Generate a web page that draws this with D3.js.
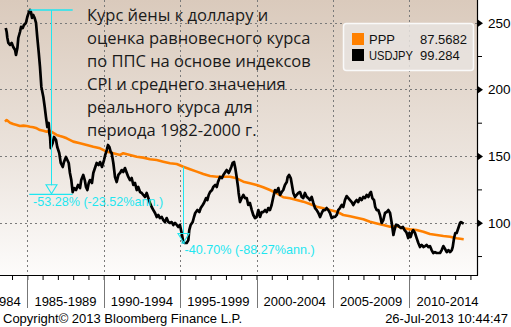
<!DOCTYPE html>
<html><head><meta charset="utf-8">
<script src="https://cdn.jsdelivr.net/npm/d3@7/dist/d3.min.js"></script>
<style>html,body{margin:0;padding:0;background:#fff;}svg{display:block;}</style>
</head><body>
<svg id="c" width="511" height="327"></svg>
<script>
// ---- data ----
const usdYears = [1983.59,1983.65,1983.69,1983.76,1983.87,1983.98,1984.08,1984.20,1984.26,1984.35,1984.41,1984.52,1984.59,1984.70,1984.78,1984.91,1985.00,1985.09,1985.18,1985.24,1985.31,1985.39,1985.48,1985.57,1985.65,1985.75,1985.83,1985.92,1986.05,1986.14,1986.22,1986.31,1986.40,1986.44,1986.49,1986.53,1986.66,1986.75,1986.88,1986.96,1987.09,1987.19,1987.32,1987.40,1987.53,1987.62,1987.71,1987.79,1987.88,1987.97,1988.06,1988.19,1988.32,1988.45,1988.53,1988.66,1988.76,1988.84,1988.93,1989.02,1989.10,1989.23,1989.32,1989.45,1989.54,1989.67,1989.76,1989.89,1990.02,1990.10,1990.20,1990.28,1990.37,1990.46,1990.52,1990.63,1990.74,1990.85,1990.96,1991.07,1991.18,1991.28,1991.39,1991.51,1991.61,1991.72,1991.83,1991.94,1992.05,1992.16,1992.26,1992.38,1992.49,1992.59,1992.70,1992.81,1992.92,1993.03,1993.14,1993.25,1993.36,1993.47,1993.57,1993.68,1993.80,1993.90,1994.01,1994.12,1994.23,1994.34,1994.45,1994.56,1994.67,1994.78,1994.88,1994.99,1995.10,1995.21,1995.32,1995.43,1995.54,1995.60,1995.69,1995.82,1995.91,1995.99,1996.13,1996.26,1996.35,1996.48,1996.56,1996.70,1996.78,1996.87,1996.96,1997.09,1997.17,1997.30,1997.40,1997.48,1997.61,1997.74,1997.83,1997.96,1998.05,1998.18,1998.27,1998.35,1998.44,1998.53,1998.61,1998.70,1998.79,1998.83,1998.92,1999.03,1999.14,1999.25,1999.36,1999.46,1999.57,1999.69,1999.79,1999.90,2000.01,2000.12,2000.23,2000.34,2000.44,2000.56,2000.67,2000.77,2000.88,2000.99,2001.10,2001.21,2001.32,2001.43,2001.54,2001.65,2001.75,2001.86,2001.98,2002.04,2002.13,2002.24,2002.32,2002.41,2002.52,2002.63,2002.74,2002.85,2002.96,2003.06,2003.17,2003.29,2003.39,2003.50,2003.61,2003.72,2003.83,2003.94,2004.05,2004.16,2004.27,2004.37,2004.48,2004.59,2004.70,2004.81,2004.92,2005.03,2005.14,2005.25,2005.35,2005.46,2005.58,2005.68,2005.79,2005.90,2006.01,2006.12,2006.23,2006.34,2006.44,2006.55,2006.66,2006.77,2006.88,2006.99,2007.10,2007.21,2007.32,2007.43,2007.49,2007.58,2007.69,2007.77,2007.87,2007.97,2008.08,2008.19,2008.30,2008.41,2008.52,2008.63,2008.74,2008.85,2008.96,2009.03,2009.12,2009.23,2009.36,2009.45,2009.58,2009.69,2009.80,2009.87,2009.93,2010.00,2010.09,2010.18,2010.26,2010.37,2010.48,2010.59,2010.70,2010.81,2010.92,2011.03,2011.14,2011.24,2011.35,2011.46,2011.57,2011.68,2011.79,2011.90,2012.01,2012.12,2012.23,2012.34,2012.45,2012.56,2012.67,2012.78,2012.84,2012.93,2013.01,2013.10,2013.21,2013.32,2013.38,2013.47,2013.56];
const usdValues = [246.0,243.0,238.9,234.8,233.3,234.8,231.8,229.5,225.8,231.0,238.5,243.0,246.8,246.0,248.3,249.8,254.3,257.3,259.5,258.0,253.5,255.8,253.5,249.8,239.3,227.3,216.8,201.8,194.3,186.8,179.3,171.8,174.8,167.3,164.3,156.0,159.8,164.3,162.0,156.8,152.3,144.8,141.8,145.5,149.3,147.0,144.8,137.3,132.0,123.0,126.0,124.5,128.3,126.0,132.0,135.8,132.0,126.8,124.5,129.8,132.0,129.8,137.3,141.8,144.8,143.3,145.5,141.8,147.0,150.8,154.5,158.3,156.8,153.0,152.3,144.8,134.3,130.5,135.8,137.3,139.5,138.0,141.0,137.3,134.3,132.0,133.5,128.3,129.8,124.5,126.8,123.0,122.3,120.8,119.3,122.3,118.5,114.8,111.8,109.5,107.3,104.3,105.8,103.5,104.3,102.0,100.5,103.5,100.5,99.8,100.5,98.3,99.8,98.3,96.8,98.3,92.3,85.5,84.8,84.8,87.0,94.5,98.3,100.5,104.3,107.3,109.5,108.0,111.0,113.3,114.8,118.5,117.0,120.8,123.0,124.5,126.8,128.3,126.8,130.5,134.3,133.5,135.8,138.0,139.5,137.3,139.5,141.8,144.8,145.5,141.0,134.3,126.8,122.3,115.5,118.5,120.8,118.5,118.5,113.3,114.8,109.5,105.8,103.5,104.3,109.5,104.3,108.0,108.0,109.5,108.0,111.0,109.5,113.3,119.3,124.5,123.0,126.0,120.8,123.0,124.5,128.3,130.5,134.3,135.8,133.5,128.3,122.3,119.3,120.8,122.3,123.0,119.3,118.5,122.3,119.3,118.5,117.0,119.3,114.8,111.0,109.5,107.3,104.3,107.3,109.5,109.5,111.0,109.5,107.3,103.5,104.3,104.3,105.8,109.5,111.0,113.3,111.8,117.0,120.0,118.5,117.0,115.5,113.3,115.5,117.0,115.5,118.5,117.0,119.3,118.5,120.8,119.3,122.3,123.0,118.5,117.0,111.8,109.5,109.5,105.8,99.8,102.0,107.3,108.0,109.5,107.3,99.8,90.8,94.5,98.3,98.3,96.8,96.0,96.8,94.5,93.0,90.8,88.5,92.3,89.3,93.0,94.5,92.3,88.5,84.8,81.8,83.3,81.8,82.5,83.3,81.8,82.5,79.5,77.3,78.0,77.3,77.3,77.3,79.5,82.5,80.3,78.0,79.5,78.0,79.5,81.8,88.5,92.3,92.3,96.0,99.8,100.5,99.8,99.3];

const pppYears = [1983.54,1983.65,1983.87,1984.08,1984.31,1984.52,1984.74,1984.96,1985.18,1985.39,1985.62,1985.83,1986.05,1986.27,1986.49,1986.70,1986.92,1987.14,1987.36,1987.58,1988.01,1988.45,1988.89,1989.32,1989.76,1990.20,1990.63,1991.07,1991.28,1991.72,1992.16,1992.59,1993.03,1993.47,1993.90,1994.34,1994.78,1995.21,1995.65,1996.09,1996.52,1996.96,1997.40,1997.83,1998.27,1998.70,1999.14,1999.57,2000.01,2000.44,2000.88,2001.32,2001.75,2002.19,2002.63,2003.06,2003.50,2003.94,2004.37,2004.81,2005.25,2005.68,2006.12,2006.55,2006.99,2007.43,2007.87,2008.30,2008.74,2009.17,2009.61,2010.05,2010.48,2010.92,2011.35,2011.79,2012.23,2012.67,2013.10,2013.56];
const pppValues = [175.8,177.0,175.0,174.0,173.3,172.5,172.8,172.5,172.0,171.6,170.8,169.5,169.0,168.3,168.8,167.3,165.8,165.0,164.3,163.3,160.8,159.6,158.3,157.0,155.8,153.3,152.1,150.8,152.1,150.8,149.5,148.8,147.6,147.0,145.8,144.6,144.0,142.0,140.1,138.3,136.5,135.0,134.5,134.5,134.5,133.3,130.8,129.6,128.3,126.6,124.5,122.1,119.1,118.3,117.0,115.8,114.0,112.0,110.8,109.5,108.3,105.8,104.8,103.7,102.6,100.8,99.5,98.3,97.0,97.5,95.8,95.0,94.5,93.3,91.5,90.8,90.0,89.5,88.3,87.6];

const seriesNames = ["PPP", "USDJPY"];
const seriesLast = ["87.5682", "99.284"];
const yMajorTicks = [100, 150, 200, 250];
const yMinorTicks = [75, 125, 175, 225];
const periodStarts = [1980, 1985, 1990, 1995, 2000, 2005, 2010];
const periodLabels = ["1984", "1985-1989", "1990-1994", "1995-1999", "2000-2004", "2005-2009", "2010-2014"];
const yearTicks = d3.range(1984, 2015);
const titleLines = ["Курс йены к доллару и", "оценка равновесного курса", "по ППС на основе индексов", "CPI и среднего значения", "реального курса для", "периода 1982-2000 г."];
// drawdown annotations
const annFrom = [1985.13, 1995.08];
const annTo = [1987.97, 1995.33];
const annHigh = [259.5, 142.0];
const annLow = [121.3, 84.8];
const annLabels = ["-53.28% (-23.52%ann.)", "-40.70% (-88.27%ann.)"];
const copyright = "Copyright© 2013 Bloomberg Finance L.P.";
const stamp = "26-Jul-2013 10:44:47";

// ---- layout ----
const W = 511, H = 327;
const plotR = 477, plotB = 275;
const svg = d3.select("#c");
const x = d3.scaleLinear().domain([1983.213, 2014.43]).range([0, plotR]);
const y = d3.scaleLinear().domain([60.8, 267.0]).range([plotB, 0]);
const AX = "'Liberation Sans', Arial, sans-serif";
const CY = "#1fe6f0";

const defs = svg.append("defs");
const g = defs.append("linearGradient").attr("id","bg").attr("x1",0).attr("y1",0).attr("x2",0).attr("y2",1);
g.append("stop").attr("offset","0%").attr("stop-color","#dacabc");
g.append("stop").attr("offset","55%").attr("stop-color","#ebe3dc");
g.append("stop").attr("offset","100%").attr("stop-color","#fdfcfb");
defs.append("clipPath").attr("id","clip").append("rect").attr("x",0).attr("y",0).attr("width",plotR).attr("height",plotB);

svg.append("rect").attr("width",W).attr("height",H).attr("fill","#fff");
svg.append("rect").attr("x",0).attr("y",0).attr("width",plotR).attr("height",plotB).attr("fill","url(#bg)");

// gridlines
const grid = svg.append("g").attr("stroke","#7a7a7a").attr("stroke-width",1).attr("stroke-dasharray","2,3");
grid.selectAll("line.h").data(yMajorTicks).join("line").attr("class","h")
  .attr("x1",0).attr("x2",plotR).attr("y1",d=>Math.round(y(d))+0.5).attr("y2",d=>Math.round(y(d))+0.5);
grid.selectAll("line.v").data(periodStarts.slice(1)).join("line").attr("class","v")
  .attr("x1",d=>Math.round(x(d))+0.5).attr("x2",d=>Math.round(x(d))+0.5).attr("y1",0).attr("y2",plotB);

// title text
const tt = svg.append("g").attr("font-family","'Open Sans', sans-serif").attr("font-size",16.5).attr("fill","#1a1a1a");
tt.selectAll("text").data(titleLines).join("text").attr("x",87).attr("y",(d,i)=>20.7+i*23.05).text(d=>d);

// legend
const lg = svg.append("g");
lg.append("rect").attr("x",343.5).attr("y",23.5).attr("width",130).attr("height",47).attr("rx",3)
  .attr("fill","#e7e3df").attr("fill-opacity",0.85).attr("stroke","#fafafa").attr("stroke-width",1.5);
const colors = ["#ff8000", "#000000"];
const nameW = [26, 44];
seriesNames.forEach((n,i)=>{
  const yy = 33 + i*16;
  lg.append("rect").attr("x",352).attr("y",yy).attr("width",12).attr("height",12).attr("fill",colors[i]);
  lg.append("text").attr("x",369).attr("y",yy+11).attr("font-family",AX).attr("font-size",13).attr("fill","#111")
    .attr("textLength",nameW[i]).attr("lengthAdjust","spacingAndGlyphs").text(n);
  lg.append("text").attr("x",420).attr("y",yy+11).attr("font-family",AX).attr("font-size",13).attr("fill","#111").text(seriesLast[i]);
});

// lines
const line = d3.line().x(d=>x(d[0])).y(d=>y(d[1]));
const lines = svg.append("g").attr("clip-path","url(#clip)").attr("fill","none").attr("stroke-linejoin","round");
lines.append("path").datum(pppYears.map((d,i)=>[d,pppValues[i]])).attr("d",line).attr("stroke","#ff8000").attr("stroke-width",2.6);
lines.append("path").datum(usdYears.map((d,i)=>[d,usdValues[i]])).attr("d",line).attr("stroke","#000").attr("stroke-width",2.7);

// annotations
const an = svg.append("g");
annFrom.forEach((f,i)=>{
  const x0 = x(f), x1 = x(annTo[i]), xm = Math.round((x0+x1)/2)+0.5;
  const yh = y(annHigh[i]), yl = y(annLow[i]);
  if (i===0) an.append("line").attr("x1",x0).attr("x2",x1).attr("y1",yh).attr("y2",yh).attr("stroke",CY).attr("stroke-width",1.3);
  an.append("line").attr("x1",x0).attr("x2",x1).attr("y1",yl).attr("y2",yl).attr("stroke",CY).attr("stroke-width",1.3);
  an.append("line").attr("x1",xm).attr("x2",xm).attr("y1",yh).attr("y2",yl-9).attr("stroke",CY).attr("stroke-width",1);
  an.append("path").attr("d",`M${xm-5.5},${yl-9.5} L${xm+5.5},${yl-9.5} L${xm},${yl-0.5} Z`).attr("fill","none").attr("stroke",CY).attr("stroke-width",1.1);
  an.append("text").attr("x", i===0 ? 33 : xm+1).attr("y", yl+11.5).attr("font-family",AX).attr("font-size",12.6).attr("fill",CY).text(annLabels[i]);
});

// axes frame
svg.append("line").attr("x1",plotR+0.5).attr("x2",plotR+0.5).attr("y1",0).attr("y2",plotB+0.5).attr("stroke","#000").attr("stroke-width",1.2);
svg.append("line").attr("x1",0).attr("x2",plotR+1).attr("y1",plotB+0.5).attr("y2",plotB+0.5).attr("stroke","#000").attr("stroke-width",1.2);

// y axis
const yAx = svg.append("g").attr("transform",`translate(${plotR+1},0)`)
  .call(d3.axisRight(y).tickValues(yMajorTicks).tickSize(0).tickPadding(10).tickFormat(d3.format("d")));
yAx.select(".domain").remove();
yAx.selectAll("text").attr("font-family",AX).attr("font-size",13.5).attr("fill","#000");
yAx.selectAll(".tick").append("path").attr("d","M0,-3.5 L5,0 L0,3.5 Z").attr("fill","#000");
const yMin = svg.append("g").attr("transform",`translate(${plotR+1},0)`)
  .call(d3.axisRight(y).tickValues(yMinorTicks).tickSize(4).tickFormat(""));
yMin.select(".domain").remove();
yMin.selectAll("line").attr("stroke","#000");

// x axis
const xAx = svg.append("g").attr("transform",`translate(0,${plotB+1})`)
  .call(d3.axisBottom(x).tickValues(yearTicks).tickSize(4).tickFormat(""));
xAx.select(".domain").remove();
xAx.selectAll("line").attr("stroke","#000");
svg.append("g").selectAll("line").data(periodStarts.slice(1)).join("line")
  .attr("x1",d=>Math.round(x(d))+0.5).attr("x2",d=>Math.round(x(d))+0.5).attr("y1",plotB+1).attr("y2",308)
  .attr("stroke","#777").attr("stroke-width",1);
svg.append("g").selectAll("text").data(periodLabels).join("text")
  .attr("x",(d,i)=> i===0 ? 20.7 : x(periodStarts[i]+2.5))
  .attr("text-anchor",(d,i)=> i===0 ? "end" : "middle")
  .attr("y",306).attr("font-family",AX).attr("font-size",13).attr("fill","#000").text(d=>d);

svg.append("text").attr("x",3).attr("y",323).attr("font-family",AX).attr("font-size",13).attr("fill","#000").text(copyright);
svg.append("text").attr("x",508).attr("y",323).attr("text-anchor","end").attr("font-family",AX).attr("font-size",13).attr("fill","#000").text(stamp);
</script>
</body></html>
